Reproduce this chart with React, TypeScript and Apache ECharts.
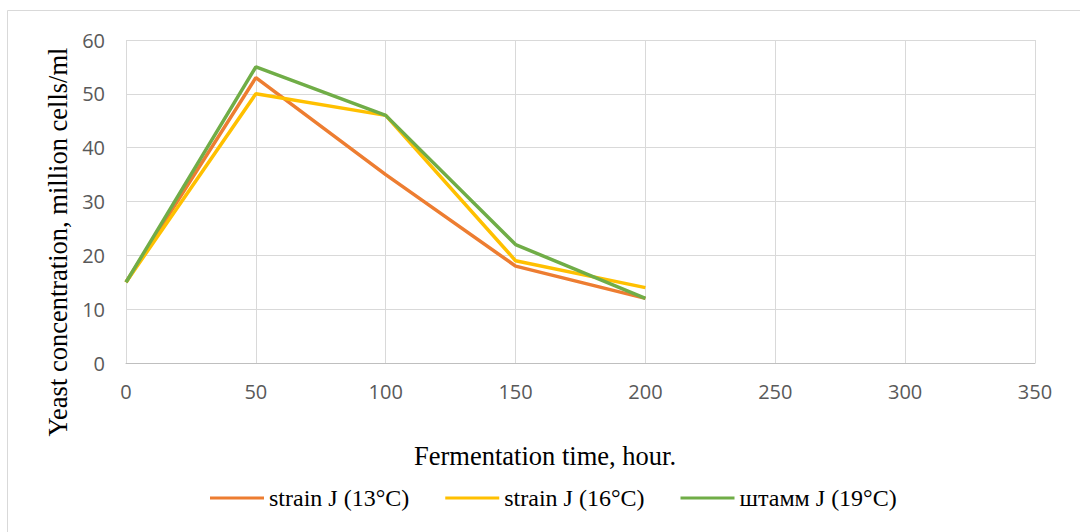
import React, { useEffect, useRef } from "react";
import * as echarts from "echarts";

const hours = [0, 50, 100, 150, 200];
const strain13 = [15, 53, 35, 18, 12];
const strain16 = [15, 50, 46, 19, 14];
const strain19 = [15, 55, 46, 22, 12];
const seriesNames = ["strain J (13°C)", "strain J (16°C)", "штамм J (19°C)"];
const seriesColors = ["#ED7D31", "#FFC000", "#70AD47"];
const seriesValues = [strain13, strain16, strain19];
const xTitle = "Fermentation time, hour.";
const yTitle = "Yeast concentration, million cells/ml";

const serif = "'Liberation Serif', 'Times New Roman', serif";

export default function App() {
  const ref = useRef<HTMLDivElement>(null);
  useEffect(() => {
    const chart = echarts.init(ref.current!, null, { renderer: "svg" });
    chart.setOption({
      animation: false,
      backgroundColor: "#ffffff",
      graphic: [
        {
          type: "rect",
          shape: { x: 7.5, y: 10.5, width: 1200, height: 700 },
          style: { fill: "none", stroke: "#d9d9d9", lineWidth: 1 },
          silent: true,
        },
        {
          type: "text",
          x: 545,
          y: 456,
          style: {
            text: xTitle,
            fontFamily: serif,
            fontSize: 26.5,
            fill: "#000",
            align: "center",
            verticalAlign: "middle",
          },
        },
        {
          type: "text",
          x: 58,
          y: 242,
          rotation: Math.PI / 2,
          style: {
            text: yTitle,
            fontFamily: serif,
            fontSize: 26.5,
            fill: "#000",
            align: "center",
            verticalAlign: "middle",
          },
        },
      ],
      grid: { left: 126, top: 40, width: 909, height: 323, containLabel: false },
      legend: {
        top: 481,
        left: 205,
        itemWidth: 54,
        itemHeight: 3,
        itemGap: 36,
        icon: "rect",
        textStyle: { fontFamily: serif, fontSize: 24, color: "#000" },
        data: seriesNames,
      },
      xAxis: {
        type: "value",
        min: 0,
        max: 350,
        interval: 50,
        axisLine: { show: true, lineStyle: { color: "#bfbfbf", width: 1 } },
        axisTick: { show: false },
        axisLabel: { fontFamily: "Open Sans", fontSize: 20, color: "#595959", margin: 18 },
        splitLine: { show: true, lineStyle: { color: "#d9d9d9", width: 1 } },
      },
      yAxis: {
        type: "value",
        min: 0,
        max: 60,
        interval: 10,
        axisLine: { show: false },
        axisTick: { show: false },
        axisLabel: { fontFamily: "Open Sans", fontSize: 20, color: "#595959", margin: 21 },
        splitLine: { show: true, lineStyle: { color: "#d9d9d9", width: 1 } },
      },
      series: seriesNames.map((name, i) => ({
        name,
        type: "line",
        data: hours.map((h, j) => [h, seriesValues[i][j]]),
        showSymbol: false,
        symbol: "none",
        lineStyle: { color: seriesColors[i], width: 3.5 },
        itemStyle: { color: seriesColors[i] },
      })),
    });
    return () => chart.dispose();
  }, []);
  return (
    <div
      ref={ref}
      style={{ position: "absolute", left: 0, top: 0, width: 1080, height: 532 }}
    />
  );
}
